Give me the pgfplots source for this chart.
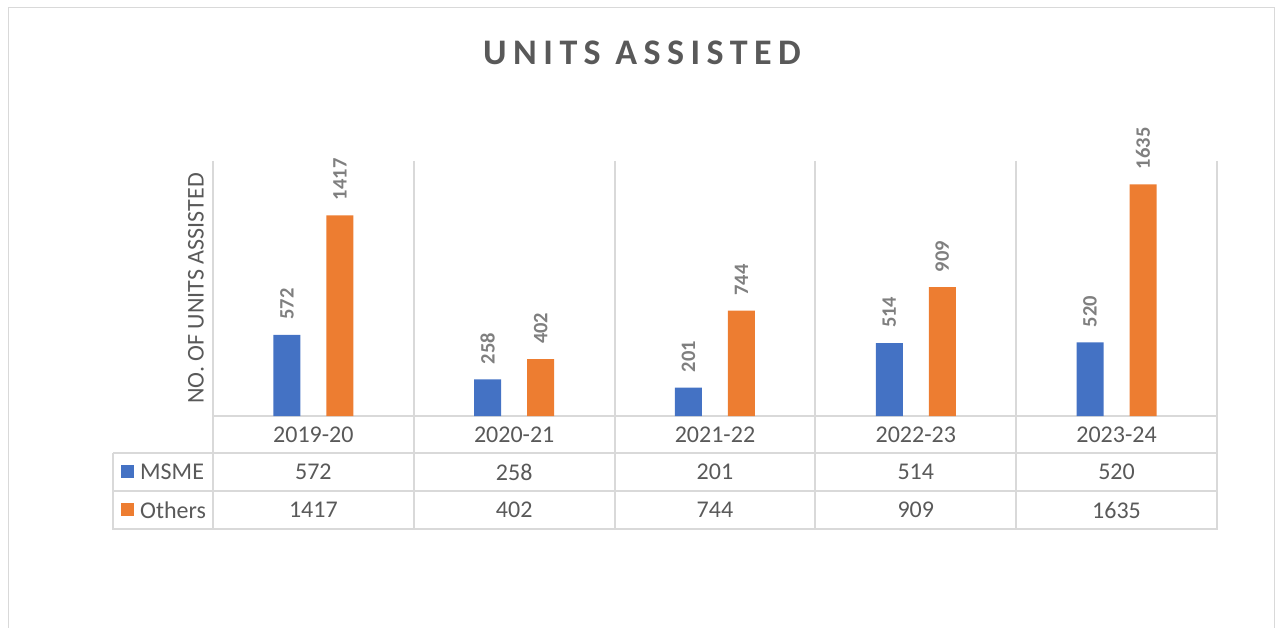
\documentclass[border=0pt]{standalone}
\usepackage{pgfplots}
\pgfplotsset{compat=1.18}
\usepackage{pgfplotstable}
\usepackage{fontspec}
\setmainfont{Carlito}
\definecolor{msme}{HTML}{4472C4}
\definecolor{oth}{HTML}{ED7D31}
\definecolor{txt}{HTML}{595959}
\definecolor{lbl}{HTML}{7F7F7F}
\definecolor{gridc}{HTML}{D9D9D9}

\pgfplotstableread{
x   label   msme others
0.5 2019-20 572  1417
1.5 2020-21 258  402
2.5 2021-22 201  744
3.5 2022-23 514  909
4.5 2023-24 520  1635
}\data

\begin{document}
\begin{tikzpicture}[x=1pt,y=-1pt]
\useasboundingbox (0,0) rectangle (1279,628);
% chart frame
\draw[gridc, line width=1.5pt] (8.5,628) -- (8.5,7.5) -- (1274.5,7.5) -- (1274.5,628);
% data table grid
\begin{scope}[gridc, line width=2pt]
\foreach \xx in {213,413.8,614.6,815.4,1016.2,1217} {\draw (\xx,161) -- (\xx,529);}
\draw (213,416) -- (1217,416);
\draw (113,453) -- (1217,453);
\draw (113,491) -- (1217,491);
\draw (112,529) -- (1218,529);
\draw (113,453) -- (113,529);
\end{scope}

\begin{axis}[
  at={(213pt,-416pt)}, anchor=south west,
  scale only axis, width=1004pt, height=255pt,
  xmin=0, xmax=5, ymin=0, ymax=1800,
  axis line style={draw=none}, tick style={draw=none},
  ytick=\empty,
  xtick={0.5,1.5,2.5,3.5,4.5},
  xticklabels from table={\data}{label},
  xticklabel style={anchor=center, yshift=-18.5pt, inner sep=0pt,
    font=\fontsize{24}{28}\selectfont, text=txt},
  ylabel={NO. OF UNITS ASSISTED},
  every axis y label/.style={at={(axis description cs:-0.0169,0.5)},
    rotate=90, anchor=center, inner sep=0pt,
    font=\fontsize{24}{28}\selectfont, text=txt},
  clip=false,
]
\addplot[ybar, bar width=27pt, bar shift=-26.5pt, fill=msme, draw=none,
  nodes near coords={\pgfplotspointmeta}, point meta=explicit symbolic,
  nodes near coords style={xshift=-26.5pt, rotate=90, anchor=west, inner xsep=15pt, inner ysep=0pt,
    font=\fontsize{20.5}{24}\selectfont\bfseries, text=lbl}]
  table[x=x, y=msme, meta=msme]{\data};
\addplot[ybar, bar width=27pt, bar shift=26.5pt, fill=oth, draw=none,
  nodes near coords={\pgfplotspointmeta}, point meta=explicit symbolic,
  nodes near coords style={xshift=26.5pt, rotate=90, anchor=west, inner xsep=15pt, inner ysep=0pt,
    font=\fontsize{20.5}{24}\selectfont\bfseries, text=lbl}]
  table[x=x, y=others, meta=others]{\data};
% data table rows
\addplot[draw=none, mark=none,
  nodes near coords={\pgfplotspointmeta}, point meta=explicit symbolic,
  nodes near coords style={anchor=center, yshift=-56pt, inner sep=0pt,
    font=\fontsize{24}{28}\selectfont, text=txt}]
  table[x=x, y expr=0, meta=msme]{\data};
\addplot[draw=none, mark=none,
  nodes near coords={\pgfplotspointmeta}, point meta=explicit symbolic,
  nodes near coords style={anchor=center, yshift=-94pt, inner sep=0pt,
    font=\fontsize{24}{28}\selectfont, text=txt}]
  table[x=x, y expr=0, meta=others]{\data};
\end{axis}

% legend keys in the data table
\fill[msme] (121,465) rectangle (134,478);
\node[anchor=west, inner sep=0pt, text=txt, font=\fontsize{24}{28}\selectfont] at (140,472) {MSME};
\fill[oth] (121,503) rectangle (134,516);
\node[anchor=west, inner sep=0pt, text=txt, font=\fontsize{24}{28}\selectfont] at (140,510) {Others};
% title
\node[text=txt, inner sep=0pt, font=\fontsize{36}{40}\selectfont\bfseries\addfontfeatures{LetterSpace=18}] at (642,53) {UNITS ASSISTED};
\end{tikzpicture}
\end{document}
